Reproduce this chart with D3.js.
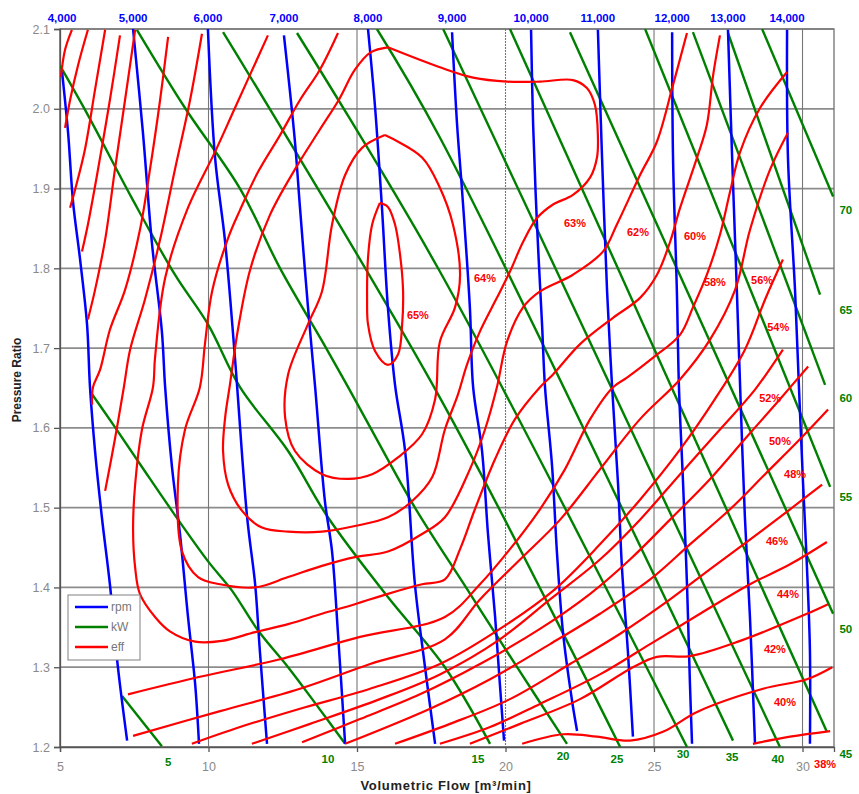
<!DOCTYPE html>
<html><head><meta charset="utf-8">
<script src="https://cdn.jsdelivr.net/npm/d3@7"></script>
<style>body{margin:0;background:#fff} svg{display:block} text{font-family:Arial,"Liberation Sans",sans-serif}</style>
</head><body><svg id="chart" width="859" height="794"></svg>
<script>
// ---------- data ----------
const xTicks = [5, 10, 15, 20, 25, 30];
const yTicks = [1.2, 1.3, 1.4, 1.5, 1.6, 1.7, 1.8, 1.9, 2.0, 2.1];
const xDomain = [5, 31.06];
const yDomain = [1.2, 2.1];

const rpmLabels = ["4,000","5,000","6,000","7,000","8,000","9,000","10,000","11,000","12,000","13,000","14,000"];
const rpm4000 = [[5.07,2.046],[5.27,1.971],[5.44,1.883],[5.67,1.813],[5.91,1.730],[6.01,1.651],[6.18,1.571],[6.41,1.488],[6.68,1.404],[6.95,1.300],[7.26,1.208]];
const rpm5000 = [[7.46,2.1],[7.79,1.971],[8.10,1.830],[8.43,1.721],[8.54,1.651],[8.77,1.551],[9.04,1.467],[9.31,1.363],[9.55,1.279],[9.68,1.204]];
const rpm6000 = [[9.98,2.1],[10.22,1.939],[10.56,1.833],[10.89,1.688],[10.96,1.654],[11.30,1.488],[11.57,1.404],[11.73,1.320],[11.97,1.204]];
const rpm7000 = [[12.54,2.092],[12.91,1.959],[13.08,1.876],[13.35,1.751],[13.59,1.651],[13.92,1.508],[14.16,1.445],[14.36,1.342],[14.60,1.204]];
const rpm8000 = [[15.37,2.1],[15.61,2.001],[15.84,1.876],[16.04,1.751],[16.28,1.654],[16.62,1.571],[16.95,1.404],[17.29,1.300],[17.63,1.204]];
const rpm9000 = [[18.20,2.096],[18.37,1.980],[18.54,1.896],[18.80,1.751],[18.91,1.651],[19.21,1.571],[19.41,1.467],[19.65,1.363],[19.81,1.279],[19.95,1.208]];
const rpm10000 = [[20.86,2.099],[20.93,1.980],[21.06,1.855],[21.23,1.730],[21.33,1.651],[21.57,1.551],[21.73,1.445],[21.94,1.342],[22.24,1.258],[22.41,1.220]];
const rpm11000 = [[23.11,2.099],[23.25,1.939],[23.42,1.771],[23.59,1.651],[23.79,1.529],[23.92,1.425],[24.12,1.320],[24.29,1.213]];
const rpm12000 = [[25.61,2.096],[25.64,1.939],[25.77,1.771],[25.84,1.651],[25.98,1.529],[26.11,1.404],[26.21,1.279],[26.28,1.204]];
const rpm13000 = [[27.49,2.099],[27.63,1.939],[27.79,1.771],[27.90,1.651],[28.06,1.488],[28.23,1.363],[28.40,1.204]];
const rpm14000 = [[29.48,2.099],[29.51,1.939],[29.75,1.771],[29.88,1.651],[30.02,1.529],[30.15,1.425],[30.25,1.320],[30.25,1.204]];
const rpmLines = [rpm4000,rpm5000,rpm6000,rpm7000,rpm8000,rpm9000,rpm10000,rpm11000,rpm12000,rpm13000,rpm14000];

const kwValues = [5,10,15,20,25,30,35,40,45,50,55,60,65,70];
const kwLines = [
  [[7.09,1.264],[8.43,1.201]],
  [[6.01,1.646],[6.85,1.601],[7.76,1.551],[8.77,1.496],[9.98,1.433],[10.79,1.396],[11.67,1.346],[12.68,1.300],[13.69,1.250],[14.60,1.204]],
  [[5.00,2.054],[5.94,1.992],[7.42,1.888],[8.87,1.792],[9.98,1.730],[11.06,1.651],[12.68,1.571],[14.02,1.488],[16.04,1.388],[17.96,1.300],[19.48,1.204]],
  [[7.59,2.099],[9.21,2.001],[11.06,1.900],[12.41,1.800],[13.96,1.700],[14.70,1.651],[15.44,1.601],[16.95,1.500],[18.67,1.400],[20.39,1.300],[22.07,1.204]],
  [[10.49,2.096],[17.79,1.638],[23.86,1.2]],
  [[12.98,2.095],[17.79,1.796],[26.11,1.2]],
  [[15.67,2.1],[17.79,1.964],[27.66,1.208]],
  [[17.90,2.1],[29.24,1.2]],
  [[20.15,2.1],[30.82,1.219]],
  [[22.17,2.096],[31.03,1.367]],
  [[24.70,2.1],[30.93,1.526]],
  [[26.31,2.096],[30.76,1.654]],
  [[27.49,2.095],[30.59,1.767]],
  [[28.64,2.1],[31.03,1.89]]
];
const kwLabelPos = [[8.64,1.181],[14.02,1.185],[19.07,1.185],[21.94,1.189],[23.75,1.185],[25.98,1.191],[27.63,1.188],[29.17,1.185],[31.46,1.191],[31.46,1.348],[31.46,1.513],[31.46,1.638],[31.46,1.748],[31.46,1.873]];

const eff65 = [[15.77,1.882],[15.51,1.855],[15.37,1.813],[15.34,1.761],[15.37,1.730],[15.61,1.696],[16.04,1.679],[16.38,1.692],[16.52,1.730],[16.55,1.773],[16.45,1.817],[16.28,1.855],[16.04,1.877],[15.77,1.882]];
const eff64 = [[15.94,1.967],[15.17,1.951],[14.60,1.917],[14.16,1.855],[13.82,1.771],[13.35,1.730],[12.68,1.667],[12.58,1.613],[12.91,1.571],[13.82,1.542],[14.70,1.536],[15.51,1.542],[16.38,1.563],[17.19,1.592],[17.63,1.636],[17.79,1.708],[18.30,1.751],[18.47,1.792],[18.23,1.855],[17.79,1.901],[17.19,1.939],[15.94,1.967]];
const eff63 = [[16.04,2.077],[17.79,2.052],[18.91,2.039],[20.05,2.034],[21.16,2.034],[22.27,2.036],[22.74,2.026],[23.01,2.005],[23.11,1.967],[23.08,1.939],[22.85,1.914],[22.27,1.892],[21.60,1.880],[21.06,1.863],[20.59,1.833],[20.15,1.796],[19.71,1.763],[19.14,1.721],[18.70,1.679],[18.40,1.642],[17.96,1.598],[17.53,1.538],[16.85,1.508],[16.04,1.488],[14.93,1.477],[13.82,1.470],[12.68,1.470],[11.80,1.475],[11.13,1.496],[10.66,1.529],[10.49,1.571],[10.56,1.613],[10.72,1.654],[10.99,1.723],[11.40,1.798],[12.07,1.867],[12.91,1.924],[13.75,1.974],[14.40,2.012],[14.93,2.049],[15.47,2.071],[16.04,2.077]];
const eff62 = [[26.11,2.095],[25.64,2.030],[25.10,1.959],[24.53,1.917],[23.75,1.855],[23.28,1.821],[22.27,1.792],[21.16,1.771],[20.59,1.751],[20.05,1.708],[19.71,1.651],[19.31,1.598],[18.80,1.548],[17.96,1.488],[17.19,1.467],[16.04,1.445],[14.93,1.438],[13.82,1.427],[12.68,1.413],[11.57,1.400],[10.39,1.404],[9.65,1.413],[9.11,1.445],[8.97,1.529],[9.21,1.598],[9.71,1.651],[9.88,1.705],[10.12,1.771],[10.66,1.838],[11.06,1.873],[11.67,1.921],[12.41,1.967],[13.08,2.011],[13.75,2.049],[14.36,2.095]];
const eff60 = [[27.22,2.092],[26.99,2.042],[26.78,1.980],[26.45,1.939],[25.88,1.876],[25.54,1.833],[25.10,1.792],[24.53,1.763],[23.62,1.738],[22.51,1.705],[21.60,1.667],[21.16,1.651],[20.32,1.611],[19.65,1.561],[18.97,1.498],[18.47,1.448],[17.96,1.410],[17.19,1.404],[16.04,1.392],[14.93,1.379],[13.82,1.367],[12.68,1.354],[11.57,1.344],[10.45,1.333],[9.55,1.332],[8.70,1.345],[8.20,1.363],[7.69,1.392],[7.53,1.425],[7.46,1.473],[7.53,1.529],[7.76,1.598],[8.13,1.651],[8.20,1.688],[8.54,1.788],[9.31,1.876],[10.22,1.946],[10.89,2.001],[12.00,2.092]];
const eff58 = [[29.48,2.046],[28.57,2.001],[27.90,1.946],[27.56,1.896],[27.22,1.842],[26.78,1.792],[26.31,1.751],[25.88,1.717],[24.97,1.688],[24.09,1.663],[23.62,1.651],[22.85,1.611],[22.00,1.548],[21.16,1.498],[20.15,1.448],[19.14,1.404],[17.96,1.363],[15.10,1.338],[12.41,1.310],[9.71,1.288],[7.29,1.266]];
const eff58b = [[9.78,2.094],[9.38,2.011],[8.87,1.924],[8.37,1.836],[7.86,1.761],[7.36,1.698],[7.15,1.651],[6.85,1.586],[6.52,1.521]];
const eff56 = [[29.51,1.970],[28.91,1.924],[28.23,1.848],[27.73,1.773],[26.89,1.711],[25.88,1.661],[24.53,1.611],[23.18,1.548],[21.84,1.485],[20.49,1.435],[19.14,1.385],[17.96,1.335],[15.44,1.304],[13.08,1.273],[10.39,1.245],[7.46,1.214]];
const eff56b = [[8.64,2.090],[8.37,2.011],[8.03,1.924],[7.69,1.848],[7.19,1.773],[6.68,1.723],[6.35,1.673],[6.11,1.651],[6.08,1.629]];
const eff54 = [[29.34,1.811],[28.74,1.761],[28.06,1.698],[27.05,1.636],[25.88,1.573],[24.53,1.510],[23.18,1.454],[21.67,1.398],[19.81,1.348],[17.79,1.304],[15.44,1.273],[13.08,1.248],[11.06,1.225],[9.44,1.204]];
const eff54b = [[7.53,2.099],[7.19,2.011],[6.85,1.924],[6.52,1.836],[6.18,1.773],[5.94,1.736]];
const eff52 = [[29.34,1.698],[28.40,1.648],[27.22,1.598],[25.88,1.542],[24.53,1.485],[23.18,1.435],[21.50,1.385],[19.81,1.335],[17.79,1.291],[15.77,1.260],[13.42,1.229],[11.46,1.204]];
const eff52b = [[7.02,2.092],[6.68,2.011],[6.28,1.924],[5.94,1.855],[5.74,1.821]];
const eff50 = [[30.19,1.677],[29.24,1.636],[28.06,1.586],[26.89,1.536],[25.54,1.485],[24.19,1.435],[22.85,1.392],[21.16,1.348],[19.14,1.304],[17.12,1.266],[15.10,1.235],[13.15,1.206]];
const eff50b = [[6.52,2.099],[6.18,2.024],[5.84,1.949],[5.51,1.899],[5.34,1.876]];
const eff48 = [[30.86,1.623],[29.92,1.586],[28.74,1.542],[27.56,1.498],[26.21,1.454],[24.87,1.410],[23.18,1.367],[21.50,1.329],[19.48,1.285],[17.46,1.248],[14.60,1.204]];
const eff48b = [[5.94,2.099],[5.61,2.055],[5.34,2.011],[5.17,1.976]];
const eff46 = [[30.66,1.529],[29.58,1.498],[28.23,1.460],[26.89,1.423],[25.54,1.385],[23.86,1.342],[22.17,1.304],[20.15,1.260],[18.13,1.229],[16.28,1.204]];
const eff46b = [[5.40,2.099],[5.17,2.074],[5.03,2.040]];
const eff44 = [[30.82,1.457],[29.58,1.429],[28.23,1.404],[26.55,1.367],[24.87,1.329],[23.18,1.291],[21.16,1.254],[19.48,1.225],[17.79,1.204]];
const eff42 = [[30.86,1.379],[30.15,1.367],[27.90,1.333],[26.21,1.314],[25.10,1.313],[24.29,1.300],[22.51,1.260],[20.49,1.229],[18.80,1.204]];
const eff40 = [[31.00,1.300],[30.15,1.285],[28.67,1.273],[26.45,1.244],[25.30,1.219],[24.19,1.208],[23.08,1.213],[21.94,1.216],[20.56,1.204]];
const eff38 = [[30.93,1.220],[29.58,1.213],[28.33,1.204]];
const effLines = [eff65,eff64,eff63,eff62,eff60,eff58,eff58b,eff56,eff56b,eff54,eff54b,eff52,eff52b,eff50,eff50b,eff48,eff48b,eff46,eff46b,eff44,eff42,eff40,eff38];

const effLabelText = ["65%","64%","63%","62%","60%","58%","56%","54%","52%","50%","48%","46%","44%","42%","40%","38%"];
const effLabelPos = [[17.05,1.742],[19.31,1.788],[22.34,1.857],[24.46,1.845],[26.38,1.841],[27.05,1.783],[28.64,1.786],[29.18,1.727],[28.91,1.638],[29.24,1.583],[29.75,1.542],[29.14,1.458],[29.51,1.392],[29.07,1.323],[29.41,1.257],[30.76,1.179]];

const legendItems = [["rpm","#0000ff"],["kW","#008000"],["eff","#ff0000"]];

// ---------- chart ----------
const svg = d3.select("#chart");
const L = 60, T = 29, R = 834, B = 747;
const x = d3.scaleLinear().domain(xDomain).range([L, R]);
const y = d3.scaleLinear().domain(yDomain).range([B, T]);

svg.append("rect").attr("width",859).attr("height",794).attr("fill","#fff");
svg.append("defs").append("clipPath").attr("id","clip")
  .append("rect").attr("x",L).attr("y",T).attr("width",R-L).attr("height",B-T);

// grid
const grid = svg.append("g");
grid.selectAll(".hg").data(yTicks).join("line")
  .attr("x1",L).attr("x2",R).attr("y1",d=>y(d)).attr("y2",d=>y(d))
  .attr("stroke","#8c8c8c").attr("stroke-width",1.7);
grid.selectAll(".vg").data(xTicks).join("line")
  .attr("y1",T).attr("y2",B).attr("x1",d=>x(d)).attr("x2",d=>x(d))
  .attr("stroke","#777").attr("stroke-width",1.1)
  .attr("stroke-dasharray",d=>d===20?"2,1":null);
svg.append("rect").attr("x",L).attr("y",T).attr("width",R-L).attr("height",B-T)
  .attr("fill","none").attr("stroke","#707070").attr("stroke-width",1.3);

// axes
const yAxis = svg.append("g").attr("transform",`translate(${L},0)`)
  .call(d3.axisLeft(y).tickValues(yTicks).tickFormat(d3.format(".1f")).tickSize(6).tickPadding(4));
const xAxis = svg.append("g").attr("transform",`translate(0,${B})`)
  .call(d3.axisBottom(x).tickValues(xTicks).tickFormat(d3.format("d")).tickSize(5).tickPadding(10));
[yAxis,xAxis].forEach(a=>{
  a.select(".domain").attr("stroke","#555").attr("stroke-width",1.3);
  a.selectAll(".tick line").attr("stroke","#555").attr("stroke-width",1.3);
  a.selectAll(".tick text").attr("fill","#8a8a8a").attr("font-size",12.5).attr("font-family","Arial");
});

const line = d3.line().x(d=>x(d[0])).y(d=>y(d[1])).curve(d3.curveCatmullRom.alpha(0.5));
const plot = svg.append("g").attr("clip-path","url(#clip)");

plot.selectAll(".kw").data(kwLines).join("path")
  .attr("d",line).attr("fill","none").attr("stroke","#008000").attr("stroke-width",2.4);
plot.selectAll(".rpm").data(rpmLines).join("path")
  .attr("d",line).attr("fill","none").attr("stroke","#0000ff").attr("stroke-width",2.5);
plot.selectAll(".eff").data(effLines).join("path")
  .attr("d",line).attr("fill","none").attr("stroke","#ff0000").attr("stroke-width",2.2);

// rpm labels at top
svg.selectAll(".rpmLab").data(rpmLines).join("text")
  .attr("x",d=>x(d[0][0])).attr("y",T-7).attr("text-anchor","middle")
  .attr("fill","#0000ff").attr("font-size",11.5).attr("font-weight","bold")
  .text((d,i)=>rpmLabels[i]);

// kW labels
svg.selectAll(".kwLab").data(kwLabelPos).join("text")
  .attr("x",d=>x(d[0])).attr("y",d=>y(d[1])+4).attr("text-anchor","middle")
  .attr("fill","#008000").attr("font-size",11.5).attr("font-weight","bold")
  .text((d,i)=>kwValues[i]);

// eff labels
svg.selectAll(".effLab").data(effLabelPos).join("text")
  .attr("x",d=>x(d[0])).attr("y",d=>y(d[1])+4).attr("text-anchor","middle")
  .attr("fill","#ff0000").attr("font-size",11).attr("font-weight","bold")
  .text((d,i)=>effLabelText[i]);

// axis titles
svg.append("text").attr("x",446).attr("y",790).attr("text-anchor","middle")
  .attr("font-size",13).attr("font-weight","bold").attr("fill","#222").attr("letter-spacing",0.7)
  .text("Volumetric Flow [m³/min]");
svg.append("text").attr("transform","translate(21,380) rotate(-90)").attr("text-anchor","middle")
  .attr("font-size",12).attr("font-weight","bold").attr("fill","#222")
  .text("Pressure Ratio");

// legend
const lg = svg.append("g").attr("transform","translate(68,595)");
lg.append("rect").attr("width",72).attr("height",65).attr("fill","#fff")
  .attr("stroke","#808080").attr("stroke-width",1);
legendItems.forEach((d,i)=>{
  lg.append("line").attr("x1",7).attr("x2",40).attr("y1",12+i*20).attr("y2",12+i*20)
    .attr("stroke",d[1]).attr("stroke-width",2.5);
  lg.append("text").attr("x",43).attr("y",16+i*20).attr("font-size",12).attr("fill","#777").text(d[0]);
});
</script></body></html>
